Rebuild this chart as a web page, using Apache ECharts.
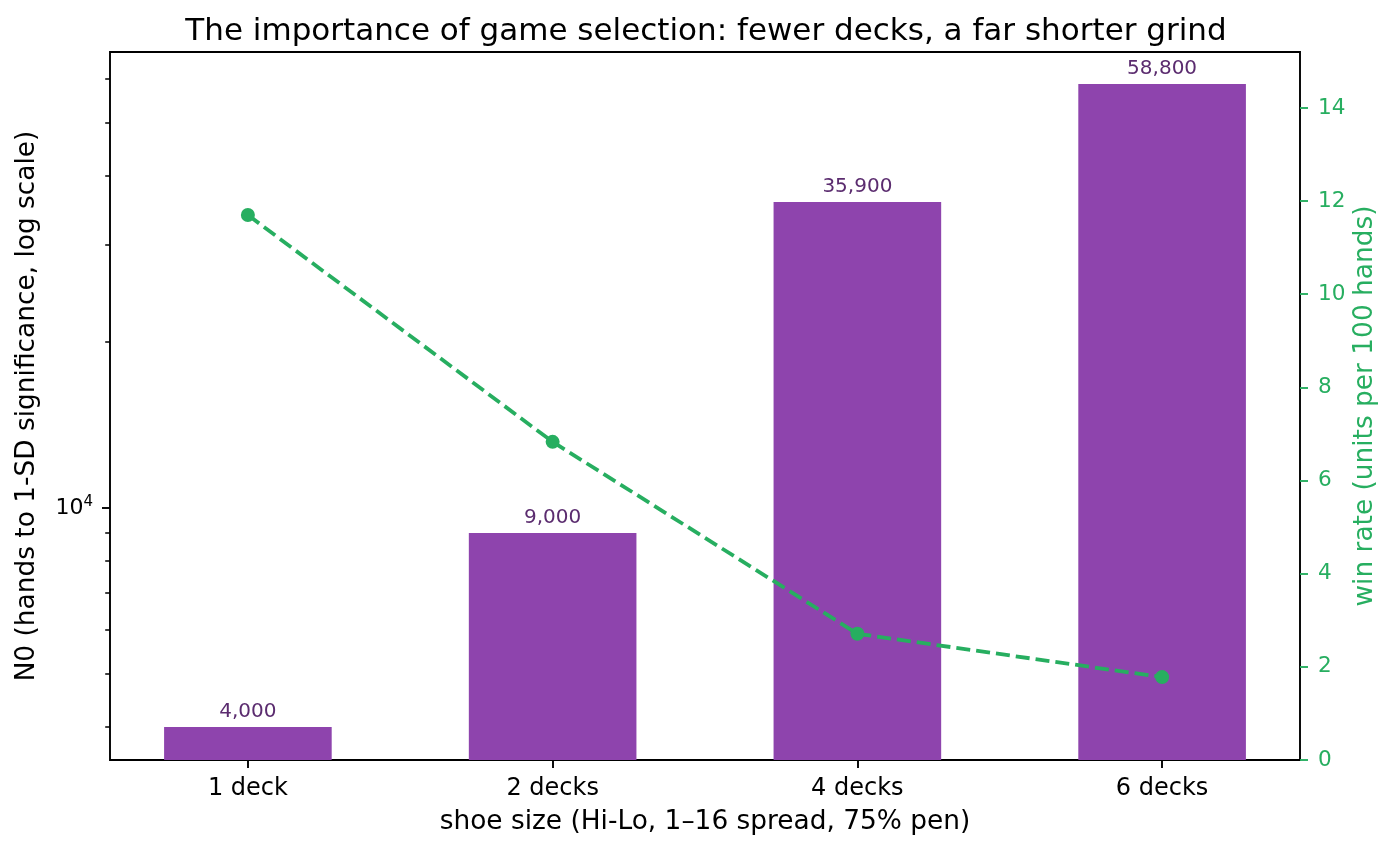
<!DOCTYPE html>
<html>
<head>
<meta charset="utf-8">
<title>Game selection</title>
<script src="https://cdn.jsdelivr.net/npm/echarts@6/dist/echarts.min.js"></script>
<style>
  html, body { margin: 0; padding: 0; background: #fff; }
  #main { width: 1394px; height: 850px; }
</style>
</head>
<body>
<div id="main"></div>
<script>
// data
var categories = ["1 deck", "2 decks", "4 decks", "6 decks"];
var handsN0 = [4000, 9000, 35900, 58800];
var winRate = [11.7, 6.83, 2.71, 1.78];
var majorTicks = [10000];
var minorTicks = [4000, 5000, 6000, 7000, 8000, 9000, 20000, 30000, 40000, 50000, 60000];
var rateTicks = [0, 2, 4, 6, 8, 10, 12, 14];

var FONT = "DejaVu Sans";
var PURPLE = "#8e44ad";
var PURPLE_DARK = "#5b2c6f";
var GREEN = "#27ae60";

var barData = handsN0.map(function (v, i) { return [i, v]; });
var lineData = winRate.map(function (v, i) { return [i, v]; });

// same log scale, used for the label and for each tick size
function logAxis(extra) {
  var ax = {
    type: "log",
    logBase: 10,
    position: "left",
    min: 3484,
    max: 67240,
    splitLine: { show: false },
    axisLine: { show: false },
    axisTick: { show: false },
    axisLabel: { show: false }
  };
  for (var k in extra) ax[k] = extra[k];
  return ax;
}

var myChart = echarts.init(document.getElementById("main"));

var option = {
  animation: false,
  backgroundColor: "#fff",
  textStyle: { fontFamily: FONT },
  title: {
    text: "The importance of game selection: fewer decks, a far shorter grind",
    left: 701,
    top: 11,
    textAlign: "center",
    textStyle: { fontFamily: FONT, fontSize: 31, fontWeight: "normal", color: "#000" }
  },
  grid: {
    left: 110, right: 94, top: 52, bottom: 90,
    show: true, borderColor: "#000", borderWidth: 1.9,
    outerBoundsMode: "none"
  },
  xAxis: {
    type: "value",
    min: -0.4525,
    max: 3.4525,
    splitLine: { show: false },
    axisLine: { show: false },
    axisTick: { show: true, length: 8, customValues: [0, 1, 2, 3], lineStyle: { color: "#000", width: 1.9 } },
    axisLabel: {
      customValues: [0, 1, 2, 3],
      margin: 17,
      fontFamily: FONT, fontSize: 24, color: "#000",
      formatter: function (v) { return categories[Math.round(v)]; }
    },
    name: "shoe size (Hi-Lo, 1\u201316 spread, 75% pen)",
    nameLocation: "middle",
    nameGap: 49,
    nameMoveOverlap: false,
    nameTextStyle: { fontFamily: FONT, fontSize: 26.4, color: "#000" }
  },
  yAxis: [
    logAxis({
      axisLabel: {
        show: true,
        customValues: majorTicks,
        margin: 17,
        formatter: function (v) { return "{a|10}{b|4}"; },
        rich: {
          a: { fontFamily: FONT, fontSize: 22, color: "#000", lineHeight: 26 },
          b: { fontFamily: FONT, fontSize: 15, color: "#000", verticalAlign: "top", lineHeight: 15 }
        }
      },
      name: "N0 (hands to 1-SD significance, log scale)",
      nameLocation: "middle",
      nameGap: 70,
      nameMoveOverlap: false,
      nameTextStyle: { fontFamily: FONT, fontSize: 26.4, color: "#000" }
    }),
    logAxis({
      axisTick: { show: true, length: 8, customValues: majorTicks, lineStyle: { color: "#000", width: 1.9 } }
    }),
    logAxis({
      axisTick: { show: true, length: 4.8, customValues: minorTicks, lineStyle: { color: "#000", width: 1.5 } }
    }),
    {
      type: "value",
      position: "right",
      min: 0,
      max: 15.2,
      splitLine: { show: false },
      axisLine: { show: false },
      axisTick: { show: true, length: 8, customValues: rateTicks, lineStyle: { color: GREEN, width: 1.9 } },
      axisLabel: {
        customValues: rateTicks,
        margin: 18,
        fontFamily: FONT, fontSize: 21.6, color: GREEN
      },
      name: "win rate (units per 100 hands)",
      nameLocation: "middle",
      nameGap: 52,
      nameRotate: 90,
      nameMoveOverlap: false,
      nameTextStyle: { fontFamily: FONT, fontSize: 26.4, color: GREEN }
    }
  ],
  series: [
    {
      name: "N0",
      type: "bar",
      xAxisIndex: 0,
      yAxisIndex: 0,
      barWidth: "55%",
      clip: true,
      data: barData,
      itemStyle: { color: PURPLE },
      label: {
        show: true,
        position: "top",
        distance: 5,
        fontFamily: FONT,
        fontSize: 20,
        color: PURPLE_DARK,
        formatter: function (p) { return p.value[1].toLocaleString("en-US"); }
      }
    },
    {
      name: "win rate",
      type: "line",
      xAxisIndex: 0,
      yAxisIndex: 3,
      data: lineData,
      symbol: "circle",
      symbolSize: 14,
      itemStyle: { color: GREEN },
      lineStyle: { color: GREEN, width: 3.8, type: [14, 6] },
      z: 5
    }
  ]
};

myChart.setOption(option);
window.addEventListener("resize", function () {
  myChart.resize();
});
</script>
</body>
</html>
